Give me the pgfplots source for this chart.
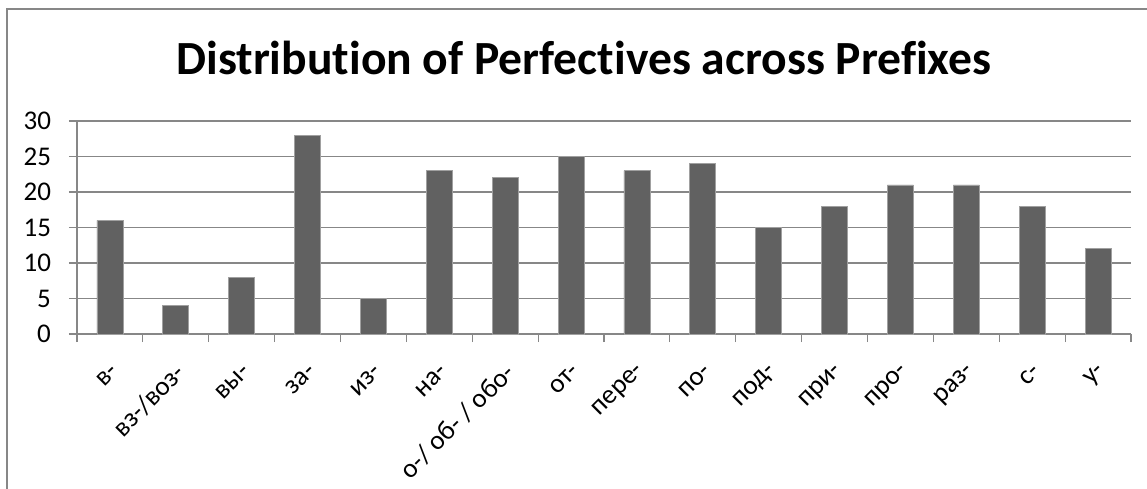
\documentclass[border=0pt]{standalone}
\usepackage{fontspec}
\setmainfont[Ligatures=NoCommon]{Carlito}
\usepackage{pgfplots}
\pgfplotsset{compat=1.18}
\definecolor{barfill}{HTML}{616161}
\definecolor{baredge}{HTML}{A0A0A0}
\definecolor{gridgray}{HTML}{878787}

\begin{document}
\begin{tikzpicture}
\useasboundingbox (0,0) rectangle (573.5pt,244pt);
% chart area frame
\begin{scope}
\clip (0,0) rectangle (573.5pt,244pt);
\draw[gridgray, line width=0.9pt] (3.5pt,-5pt) -- (3.5pt,239.5pt) -- (590pt,239.5pt);
\end{scope}
\node[anchor=base, inner sep=0pt, font=\fontsize{23.8}{28}\selectfont\bfseries]
  at (292pt,206.5pt) {Distribution of Perfectives across Prefixes};
\begin{axis}[
  at={(38.5pt,77pt)}, anchor=south west,
  scale only axis, width=527pt, height=106.5pt,
  ybar, bar width=13pt,
  xmin=-0.5, xmax=15.5, ymin=0, ymax=30,
  axis x line=bottom, axis y line=left,
  axis line style={-, gridgray, line width=0.6pt},
  ytick={0,5,...,30},
  ymajorgrids, grid style={gridgray, line width=0.6pt},
  xtick={0,...,15},
  xticklabels={в-, вз-/воз-, вы-, за-, из-, на-, о-/ об- / обо-, от-, пере-, по-, под-, при-, про-, раз-, с-, у-},
  minor xtick={-0.5,0.5,...,15.5},
  every major x tick/.append style={draw=none},
  tick align=outside, major tick length=4pt, minor tick length=4pt,
  tick style={gridgray, line width=0.6pt},
  ticklabel style={font=\fontsize{13.5}{16}\selectfont},
  /pgf/number format/assume math mode=true,
  xticklabel style={inner sep=0pt, yshift=-13pt, xshift=2.5pt, rotate=45, anchor=east},
  yticklabel style={xshift=-5.5pt},
]
\addplot[fill=barfill, draw=baredge, line width=0.4pt] coordinates {
  (0,16) (1,4) (2,8) (3,28) (4,5) (5,23) (6,22) (7,25)
  (8,23) (9,24) (10,15) (11,18) (12,21) (13,21) (14,18) (15,12)
};
\end{axis}
\end{tikzpicture}
\end{document}
